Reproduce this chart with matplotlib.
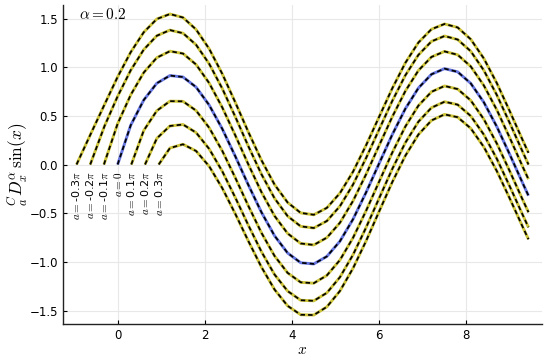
import numpy as np
import matplotlib
matplotlib.use("Agg")
import matplotlib.pyplot as plt

plt.rcParams['mathtext.fontset'] = 'cm'

## ## data: Caputo derivative of sin(x), order 0.2, for several lower limits a
order = 0.2
a_vals = [-0.3 * np.pi, -0.2 * np.pi, -0.1 * np.pi, 0.0, 0.1 * np.pi, 0.2 * np.pi, 0.3 * np.pi]
a_labels = [r"$a = $-0.3$\pi$", r"$a = $-0.2$\pi$", r"$a = $-0.1$\pi$", r"$a = 0$",
            r"$a = $0.1$\pi$", r"$a = $0.2$\pi$", r"$a = $0.3$\pi$"]

## sample positions shared by all curves (each curve starts at its own a with value 0)
x_grid = [-0.6, -0.3, 0.0, 0.3, 0.6, 0.9, 1.2, 1.5, 1.8, 2.1, 2.4, 2.7, 3.0, 3.3, 3.6,
          3.9, 4.2, 4.5, 4.8, 5.1, 5.4, 5.7, 6.0, 6.3, 6.6, 6.9, 7.2, 7.5, 7.8, 8.1,
          8.4, 8.7, 9.0, 9.3, 9.4248]

y_m03 = [0.331, 0.617, 0.900, 1.154, 1.359, 1.495, 1.546, 1.510, 1.387, 1.189, 0.932,
         0.638, 0.333, 0.044, -0.206, -0.390, -0.497, -0.516, -0.445, -0.294, -0.074,
         0.198, 0.491, 0.782, 1.044, 1.253, 1.390, 1.444, 1.408, 1.287, 1.090, 0.835,
         0.543, 0.242, 0.120]
y_m02 = [0.396, 0.700, 0.968, 1.181, 1.323, 1.381, 1.349, 1.230, 1.035, 0.781, 0.490,
         0.187, -0.100, -0.347, -0.530, -0.635, -0.652, -0.580, -0.428, -0.206, 0.067,
         0.361, 0.653, 0.916, 1.126, 1.265, 1.320, 1.284, 1.164, 0.968, 0.713, 0.422,
         0.122, 0.000]
y_m01 = [0.419, 0.715, 0.945, 1.098, 1.164, 1.140, 1.027, 0.837, 0.587, 0.299, 0.000,
         -0.284, -0.528, -0.708, -0.811, -0.826, -0.751, -0.598, -0.374, -0.100, 0.197,
         0.490, 0.754, 0.966, 1.105, 1.162, 1.127, 1.008, 0.813, 0.560, 0.270, -0.030,
         -0.151]
y_0 = [0.403, 0.663, 0.835, 0.914, 0.899, 0.795, 0.611, 0.367, 0.084, -0.211, -0.491,
       -0.732, -0.909, -1.009, -1.021, -0.944, -0.788, -0.562, -0.286, 0.012, 0.307,
       0.573, 0.786, 0.927, 0.985, 0.952, 0.834, 0.640, 0.388, 0.099, -0.199, -0.320]
y_p01 = [0.350, 0.553, 0.651, 0.649, 0.554, 0.378, 0.141, -0.136, -0.426, -0.702, -0.939,
         -1.113, -1.210, -1.219, -1.139, -0.981, -0.753, -0.475, -0.175, 0.122, 0.390,
         0.605, 0.747, 0.807, 0.775, 0.659, 0.466, 0.215, -0.073, -0.370, -0.490]
y_p02 = [0.269, 0.396, 0.411, 0.328, 0.161, -0.069, -0.340, -0.625, -0.896, -1.130,
         -1.300, -1.394, -1.400, -1.318, -1.157, -0.927, -0.647, -0.345, -0.046, 0.224,
         0.440, 0.584, 0.645, 0.615, 0.499, 0.308, 0.058, -0.229, -0.525, -0.645]
y_p03 = [0.169, 0.208, 0.139, -0.018, -0.242, -0.507, -0.787, -1.054, -1.284, -1.452,
         -1.543, -1.546, -1.462, -1.299, -1.066, -0.785, -0.481, -0.181, 0.090, 0.308,
         0.453, 0.515, 0.486, 0.372, 0.181, -0.068, -0.353, -0.648, -0.768]

curves = [y_m03, y_m02, y_m01, y_0, y_p01, y_p02, y_p03]

## ## plot
fig = plt.figure(figsize=(5.5, 3.62), dpi=100)
ax = fig.add_axes([0.1145, 0.105, 0.871, 0.881])

for a, ys, lab in zip(a_vals, curves, a_labels):
    xs = [a] + x_grid[-len(ys):]
    yy = [0.0] + ys
    col = "#6676e0" if a == 0.0 else "#cdc43a"
    ax.plot(xs, yy, color=col, lw=2.1, solid_capstyle="butt", zorder=2)
    ax.plot(xs, yy, color="black", lw=1.25, ls=(0, (2.6, 1.8)), zorder=3)
    ax.text(a, -0.07, lab, rotation=90, ha="center", va="top", fontsize=8)

ax.text(-0.88, 1.5, r"$\alpha = %g$" % order, fontsize=11)

ax.set_xlim(-1.2535, 9.7358)
ax.set_ylim(-1.638, 1.638)
ax.set_xticks([0, 2, 4, 6, 8])
ax.set_yticks([-1.5, -1.0, -0.5, 0.0, 0.5, 1.0, 1.5])
ax.set_yticklabels(["\u22121.5", "\u22121.0", "\u22120.5", "0.0", "0.5", "1.0", "1.5"])
ax.tick_params(direction="in", length=3, labelsize=8.5, width=0.8)
ax.grid(True, color="#e8e8e8", lw=0.8)
ax.set_axisbelow(True)
for s in ["top", "right"]:
    ax.spines[s].set_visible(False)
for s in ["left", "bottom"]:
    ax.spines[s].set_linewidth(1.0)
    ax.spines[s].set_color("#222222")

ax.set_xlabel(r"$x$", fontsize=11, labelpad=0)
ax.set_ylabel(r"${}^{C}_{a}D^{\alpha}_{x}\,\sin(x)$", fontsize=12.5, labelpad=0)

fig.savefig("out.png", dpi=100)
